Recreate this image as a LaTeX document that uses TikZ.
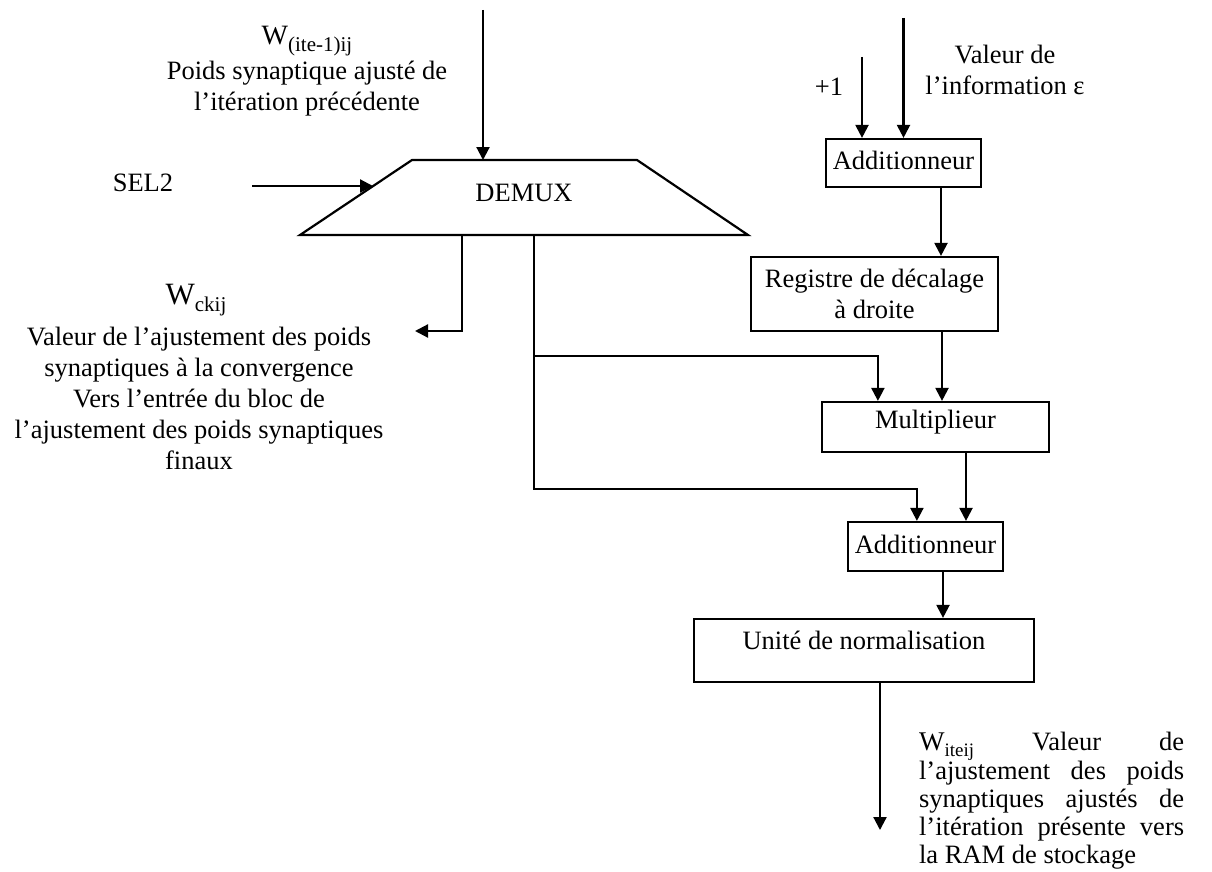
\documentclass[tikz,border=0pt]{standalone}
\usepackage{fontspec}
\setmainfont{Liberation Serif}
\usetikzlibrary{arrows.meta,calc}

\begin{document}
\begin{tikzpicture}[x=1pt,y=-1pt,line width=2.2pt,
  every node/.style={font=\fontsize{26.5}{31}\selectfont,inner sep=0pt},
  blk/.style={draw,rectangle,line width=2.2pt,text height=19pt,text depth=6pt},
  flow/.style={-{Triangle[length=13pt,width=13pt]},line width=2.2pt},
  bigw/.style={font=\fontsize{#1}{31}\selectfont},
]
\useasboundingbox (0,0) rectangle (1212,872);

% ---- demultiplexer (trapezoid) ----
\coordinate (dtl) at (412,160);
\coordinate (dtr) at (637,160);
\coordinate (dbr) at (748,235);
\coordinate (dbl) at (300,235);
\draw (dtl) -- (dtr) -- (dbr) -- (dbl) -- cycle;
\node (demux) at (524,193) {DEMUX};

% ---- processing blocks ----
\node[blk,minimum width=155pt,minimum height=48pt] (add1) at (903.5,163) {Additionneur};
\node[blk,minimum width=247pt,minimum height=74pt,align=center,text height=,text depth=] (reg) at (874.5,294)
  {Registre de décalage\\à droite};
\node[blk,minimum width=227pt,minimum height=50pt,text depth=17pt] (mult) at (935.5,427) {Multiplieur};
\node[blk,minimum width=155pt,minimum height=49pt] (add2) at (925.5,546.5) {Additionneur};
\node[blk,minimum width=340pt,minimum height=63pt,text depth=22pt] (norm) at (864,650.5) {Unité de normalisation};

% ---- labels ----
\node[bigw=28] (winp) at (307,41)
  {W\raisebox{-7pt}{\fontsize{21}{21}\selectfont (ite-1)ij}};
\node[align=center] (winptxt) at (307,89)
  {Poids synaptique ajusté de\\l’itération précédente};
\node (sel2) at (143,183) {SEL2};
\node (plus1) at (829,87) {+1};
\node[align=center] (eps) at (1005,70) {Valeur de\\l’information ε};
\node[bigw=31] (wck) at (196,300)
  {W\raisebox{-7pt}{\fontsize{21}{21}\selectfont ckij}};
\node[align=center] (wcktxt) at (199,398)
  {Valeur de l’ajustement des poids\\
   synaptiques à la convergence\\
   Vers l’entrée du bloc de\\
   l’ajustement des poids synaptiques\\
   finaux};
\node[anchor=north west,text width=265pt,align=justify,
      font=\fontsize{26.5}{28}\selectfont] (wite) at (918,731)
  {\sloppy{\fontsize{27}{28}\selectfont W\raisebox{-6pt}{\fontsize{19}{19}\selectfont iteij}}
   \hfill Valeur \hfill de\linebreak
   l’ajustement des poids\linebreak
   synaptiques ajustés de\linebreak
   l’itération présente vers\linebreak
   la RAM de stockage};

% ---- connector end points ----
\coordinate (inW) at (483,10);
\coordinate (dtop) at (483,160);
\coordinate (selsrc) at (252,186);
\coordinate (selin) at (373,186);
\coordinate (dout1) at (462,235);
\coordinate (wckend) at (415,331);
\coordinate (dout2) at (534,235);
\coordinate (br1) at (534,356);
\coordinate (p1src) at (862,57);
\coordinate (epssrc) at (903.5,18);
\coordinate (c1) at ($(add1.south)+(37.5,0)$);
\coordinate (c2) at ($(reg.south)+(67.5,0)$);
\coordinate (c3) at ($(mult.south)+(30.5,0)$);
\coordinate (c4) at ($(add2.south)+(17.5,0)$);
\coordinate (c5) at ($(norm.south)+(16,0)$);
\coordinate (outend) at (880,830);

% ---- connectors ----
\draw[flow] (inW) -- (dtop);
\draw[flow] (selsrc) -- (selin);
\draw[flow] (dout1) |- (wckend);
\draw[flow] (dout2) |- ($(add2.north west)+(70,-32)$) -- ($(add2.north west)+(70,0)$);
\draw[flow] (br1) -| ($(mult.north west)+(57,0)$);
\draw[flow] (p1src) -- (p1src |- add1.north);
\draw[flow] (epssrc) -- (add1.north);
\draw[flow] (c1) -- (c1 |- reg.north);
\draw[flow] (c2) -- (c2 |- mult.north);
\draw[flow] (c3) -- (c3 |- add2.north);
\draw[flow] (c4) -- (c4 |- norm.north);
\draw[flow] (c5) -- (outend);
\end{tikzpicture}
\end{document}
